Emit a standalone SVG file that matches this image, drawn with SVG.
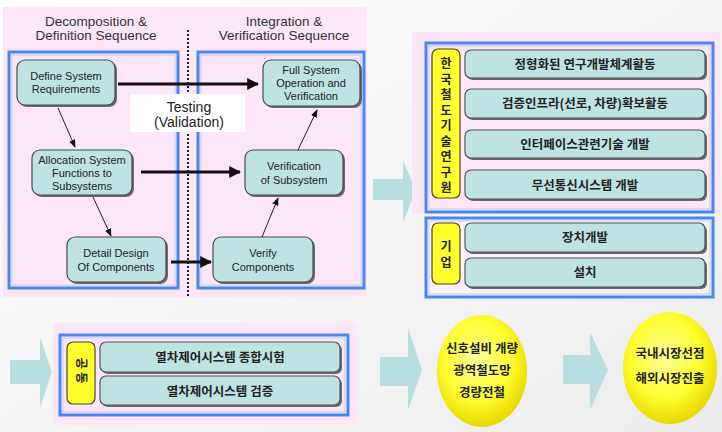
<svg xmlns="http://www.w3.org/2000/svg" width="722" height="432" viewBox="0 0 722 432">
<defs>
<style>
.en{font-family:"Liberation Sans",Arial,sans-serif;fill:#222;text-anchor:middle}
.hd{font-size:13.5px;fill:#333}
.nd{font-size:11px}
.ko{font-family:"Noto Sans CJK KR","Liberation Sans",sans-serif;font-weight:bold;fill:#222;text-anchor:middle;font-size:12.5px}
.vk{font-size:12px}
.node{fill:#bfe3e3;stroke:#4a4a4a;stroke-width:1.2}
.shadow{fill:#6a6a6a}
.bar{fill:#bfe3e3;stroke:#555;stroke-width:1.2}
.pink{fill:#fde6f8}
.blue{fill:none;stroke:#4a86f2;stroke-width:3}
.blueIn{fill:none;stroke:#b9d2ff;stroke-width:1}
.yel{fill:#ffff2e;stroke:#4a4a20;stroke-width:1.2}
.big{fill:#b7dfe0}
.thick{stroke:#111;stroke-width:3;fill:none}
.thin{stroke:#222;stroke-width:1;fill:none}
</style>
<marker id="ah" viewBox="0 0 10 10" refX="9" refY="5" markerWidth="4" markerHeight="4" orient="auto"><path d="M0,0 L10,5 L0,10 z" fill="#111"/></marker>
<marker id="ahs" viewBox="0 0 10 10" refX="9" refY="5" markerWidth="8" markerHeight="8" orient="auto"><path d="M0,1 L10,5 L0,9 z" fill="#111"/></marker>
<radialGradient id="eg" cx="0.45" cy="0.4" r="0.6"><stop offset="0" stop-color="#ffff9a"/><stop offset="0.6" stop-color="#ffff30"/><stop offset="1" stop-color="#e8d800"/></radialGradient>
<linearGradient id="bg" x1="0" y1="0" x2="1" y2="1"><stop offset="0" stop-color="#ffffff"/><stop offset="1" stop-color="#ececec"/></linearGradient>
</defs>
<rect x="0" y="0" width="722" height="432" fill="url(#bg)"/>

<!-- left panel -->
<g id="left-panel">
<rect class="pink" x="3" y="7" width="364" height="290"/>
<text class="en hd" x="96" y="26">Decomposition &amp;</text>
<text class="en hd" x="96" y="40">Definition Sequence</text>
<text class="en hd" x="284" y="26">Integration &amp;</text>
<text class="en hd" x="284" y="40">Verification Sequence</text>
<rect class="blue" x="9" y="52" width="169" height="236"/>
<rect class="blueIn" x="12" y="55" width="163" height="230"/>
<rect class="blue" x="198" y="52" width="166" height="236"/>
<rect class="blueIn" x="201" y="55" width="160" height="230"/>
<line x1="188" y1="30" x2="188" y2="297" stroke="#222" stroke-width="2" stroke-dasharray="2,2"/>
</g>

<g id="testing">
<rect x="130" y="94" width="115" height="38" fill="#ffffff"/>
<text class="en" x="189" y="112" font-size="14" fill="#333">Testing</text>
<text class="en" x="189" y="127" font-size="14" fill="#333">(Validation)</text>
</g>

<g id="n-define">
<rect class="shadow" x="19" y="62" width="98" height="45" rx="8"/>
<rect class="node" x="17" y="60" width="98" height="45" rx="8"/>
<text class="en nd" x="66" y="80">Define System</text>
<text class="en nd" x="66" y="93">Requirements</text>
</g>
<g id="n-full">
<rect class="shadow" x="265" y="62" width="97" height="46" rx="8"/>
<rect class="node" x="263" y="60" width="97" height="46" rx="8"/>
<text class="en nd" x="311" y="74">Full System</text>
<text class="en nd" x="311" y="87">Operation and</text>
<text class="en nd" x="311" y="100">Verification</text>
</g>
<g id="n-alloc">
<rect class="shadow" x="34" y="152" width="100" height="45" rx="8"/>
<rect class="node" x="32" y="150" width="100" height="45" rx="8"/>
<text class="en nd" x="82" y="164">Allocation System</text>
<text class="en nd" x="82" y="177">Functions to</text>
<text class="en nd" x="82" y="190">Subsystems</text>
</g>
<g id="n-versub">
<rect class="shadow" x="247" y="152" width="98" height="45" rx="8"/>
<rect class="node" x="245" y="150" width="98" height="45" rx="8"/>
<text class="en nd" x="294" y="170">Verification</text>
<text class="en nd" x="294" y="184">of Subsystem</text>
</g>
<g id="n-detail">
<rect class="shadow" x="69" y="239" width="99" height="45" rx="8"/>
<rect class="node" x="67" y="237" width="99" height="45" rx="8"/>
<text class="en nd" x="116" y="257">Detail Design</text>
<text class="en nd" x="116" y="271">Of Components</text>
</g>
<g id="n-verify">
<rect class="shadow" x="215" y="239" width="100" height="45" rx="8"/>
<rect class="node" x="213" y="237" width="100" height="45" rx="8"/>
<text class="en nd" x="263" y="257">Verify</text>
<text class="en nd" x="263" y="271">Components</text>
</g>

<g id="connectors">
<line class="thick" x1="118" y1="84" x2="258" y2="84" marker-end="url(#ah)"/>
<line class="thick" x1="141" y1="172" x2="240" y2="172" marker-end="url(#ah)"/>
<line class="thick" x1="171" y1="262" x2="211" y2="262" marker-end="url(#ah)"/>
<line class="thin" x1="58" y1="108" x2="75" y2="147" marker-end="url(#ahs)"/>
<line class="thin" x1="93" y1="197" x2="111" y2="236" marker-end="url(#ahs)"/>
<line class="thin" x1="262" y1="237" x2="278" y2="198" marker-end="url(#ahs)"/>
<line class="thin" x1="298" y1="150" x2="317" y2="110" marker-end="url(#ahs)"/>
<polygon class="big" points="373,179 403,179 403,160 416,191 403,222 403,200 373,200"/>
<polygon class="big" points="10,360 40,360 40,337 52,372 40,408 40,384 10,384"/>
<polygon class="big" points="380,357 408,357 408,328 422,370 408,410 408,386 380,386"/>
<polygon class="big" points="563,355 590,355 590,332 608,370 590,410 590,384 563,384"/>
</g>

<!-- right top panel -->
<g id="krri">
<rect class="pink" x="412" y="32" width="308" height="181"/>
<rect class="blue" x="426" y="43" width="287" height="169"/>
<rect class="blueIn" x="429" y="46" width="281" height="163"/>
<rect class="yel" x="432" y="49" width="28" height="149" rx="6"/>
<g class="ko vk">
<text x="446" y="68">한</text><text x="446" y="83.5">국</text><text x="446" y="99">철</text>
<text x="446" y="114.5">도</text><text x="446" y="130">기</text><text x="446" y="145.5">술</text>
<text x="446" y="161">연</text><text x="446" y="176.5">구</text><text x="446" y="192">원</text>
</g>
<rect class="shadow" x="467" y="52" width="240" height="28" rx="6"/>
<rect class="bar" x="465" y="50" width="240" height="28" rx="6"/>
<text class="ko" x="585" y="69">정형화된 연구개발체계활동</text>
<rect class="shadow" x="467" y="91" width="240" height="29" rx="6"/>
<rect class="bar" x="465" y="89" width="240" height="29" rx="6"/>
<text class="ko" x="585" y="108">검증인프라(선로, 차량)확보활동</text>
<rect class="shadow" x="467" y="132" width="240" height="28" rx="6"/>
<rect class="bar" x="465" y="130" width="240" height="28" rx="6"/>
<text class="ko" x="585" y="149">인터페이스관련기술 개발</text>
<rect class="shadow" x="467" y="172" width="240" height="29" rx="6"/>
<rect class="bar" x="465" y="170" width="240" height="29" rx="6"/>
<text class="ko" x="585" y="190">무선통신시스템 개발</text>
</g>

<g id="company">
<rect x="426" y="218" width="287" height="79" fill="#fbf0fa"/>
<rect class="blue" x="426" y="218" width="287" height="79"/>
<rect class="blueIn" x="429" y="221" width="281" height="73"/>
<rect class="yel" x="432" y="223" width="28" height="61" rx="6"/>
<text class="ko vk" x="446" y="251">기</text>
<text class="ko vk" x="446" y="267">업</text>
<rect class="shadow" x="467" y="225" width="240" height="29" rx="6"/>
<rect class="bar" x="465" y="223" width="240" height="29" rx="6"/>
<text class="ko" x="585" y="242">장치개발</text>
<rect class="shadow" x="467" y="260" width="240" height="29" rx="6"/>
<rect class="bar" x="465" y="258" width="240" height="29" rx="6"/>
<text class="ko" x="585" y="277">설치</text>
</g>

<g id="joint">
<rect class="pink" x="53" y="323" width="304" height="102"/>
<rect class="blue" x="60" y="335" width="288" height="80"/>
<rect class="blueIn" x="63" y="338" width="282" height="74"/>
<rect class="yel" x="67" y="342" width="28" height="62" rx="6"/>
<text class="ko" transform="translate(81,372) rotate(90)" y="4" font-size="11" letter-spacing="3">공동</text>
<rect class="shadow" x="102" y="344" width="240" height="30" rx="6"/>
<rect class="bar" x="100" y="342" width="240" height="30" rx="6"/>
<text class="ko" x="220" y="362">열차제어시스템 종합시험</text>
<rect class="shadow" x="102" y="378" width="240" height="29" rx="6"/>
<rect class="bar" x="100" y="376" width="240" height="29" rx="6"/>
<text class="ko" x="220" y="396">열차제어시스템 검증</text>
</g>

<g id="e1">
<ellipse cx="482" cy="371" rx="45" ry="56" fill="url(#eg)"/>
<text class="ko" x="482" y="353" font-size="13">신호설비 개량</text>
<text class="ko" x="482" y="375" font-size="13">광역철도망</text>
<text class="ko" x="482" y="397" font-size="13">경량전철</text>
</g>
<g id="e2">
<ellipse cx="670" cy="368" rx="47" ry="56" fill="url(#eg)"/>
<text class="ko" x="670" y="358" font-size="13">국내시장선점</text>
<text class="ko" x="670" y="383" font-size="13">해외시장진출</text>
</g>
</svg>
